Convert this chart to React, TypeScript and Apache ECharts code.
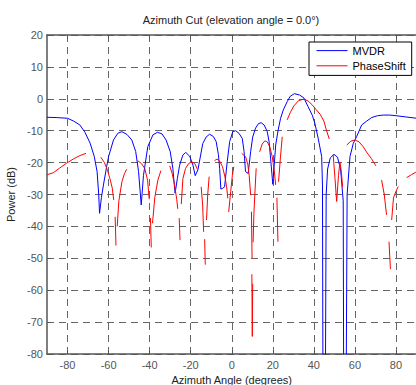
import React, { useEffect, useRef } from "react";
import * as echarts from "echarts";

const xTicks = [-80, -60, -40, -20, 0, 20, 40, 60, 80];

const mvdrAngles = [
  -90, -85, -80, -77, -74, -71.5, -69, -67, -65.6, -64.8, -64.4, -63.5, -62.5, -61, -60, -57.6, -55.5, -53.5,
  -51, -48.7, -46.8, -45.4, -44.1, -43, -40.9, -38.4, -36.2, -34, -32, -30, -28.7, -27.6, -26.5, -25.4, -23.8,
  -22.4, -20.5, -18.9, -17.8, -16.5, -14.1, -12.5, -10.8, -9, -7.6, -6.5, -5.9, -5.3, -4.5, -3.5, -2.2, -1, 0.5,
  1.9, 3.5, 5.1, 6, 6.7, 8, 9.2, 10.2, 11.6, 13, 14.3, 15.8, 17.3, 18.2, 18.9, 20, 21.4, 22.6, 23.8, 25.1, 27,
  28.5, 30.5, 33, 35.1, 37.2, 39.2, 40.5, 42.1, 43.8, 44.2, 44.5, 45.5, 46, 46.7, 48, 49.8, 51.5, 53, 54.3, 54.6,
  55.6, 56.2, 57.6, 59.2, 60.8, 63.3, 65.7, 68.1, 71, 73.8, 77, 80, 85, 90,
];
const mvdrPower = [
  -5.8, -5.9, -6.1, -7.0, -8.2, -10.5, -13.9, -18.0, -22.8, -30, -35.9, -31, -27, -21.5, -18.1, -12.9, -10.8, -10.3,
  -11.2, -12.9, -16.5, -22.8, -33.3, -24, -15, -11.3, -10.5, -11, -12.9, -16.5, -21.8, -29.6, -25, -20.8, -17.6,
  -16.8, -18, -20.8, -24.1, -22.3, -14, -12, -11.1, -11.8, -13.4, -17.5, -21.8, -28.3, -28.1, -27.6, -19.7, -13.4, -10.3,
  -10, -10.8, -12.4, -16.5, -22.8, -23.4, -16.6, -12, -9.2, -7.8, -7.5, -8.2, -10.3, -13.5, -18.6, -26.8, -14.5, -9.8, -6.1, -3.5, -0.9,
  0.8, 1.6, 1.2, 0.3, -2.5, -5.1, -7.7, -12.4, -18.1, -27, -110, -110, -30, -22, -18.5, -17.4, -18.3, -22, -32, -110,
  -110, -30, -18.1, -14, -11.9, -8.2, -7.0, -5.9, -5.3, -5.1, -5.1, -5.3, -5.7, -6.1,
];

const phaseAngles = [
  -90, -87, -84, -80.5, -77, -74, -71, -67,
  -63.8, -62, -60.5, -59.4, -58.2, -57.5, -57.1,
  -56.8, -56.4, -56.1, -55.8, -55, -53.5, -52.3, -51.2, -48,
  -45.8, -44, -42.4, -41, -40.2, -39.9,
  -39.6, -39.2, -38.9, -38.6, -37.5, -36, -34.5, -32,
  -30.2, -29, -28, -26.8, -26.3, -26,
  -25.6, -25.2, -24.9, -24.6, -23.8, -22.5, -21, -19.4, -18, -16.8, -15.8,
  -14.9, -14.2, -13.7, -13.4, -13.2, -12.9, -12.6, -12.3, -11.7, -11, -9.7,
  -8.4, -7.2, -6, -4.5, -3.3, -2.5, -1.9, -1.7,
  -1.5, -0.5, 0.3, 1, 3,
  4.8, 6.7, 7.8, 8.5, 9.2, 9.4,
  9.6, 9.9, 9.85, 9.8, 10, 10.2, 10.3, 10.4, 10.8, 11.4, 11.9, 12.8,
  13.6, 14.8, 16.1, 17.3, 18.5, 19.7, 20.7, 21.4, 21.7,
  22, 22.5, 22.6, 22.8, 23.7, 24.6, 25.8,
  27, 28.6, 30.3, 32.5, 35.1, 37.2, 39.2, 41, 43, 44.9, 46.2, 47.5, 48.5,
  49.4, 50.3, 51.1, 52, 52.7, 53.4, 54, 55,
  56, 58, 60, 62, 64, 66, 68, 70.2, 71.5,
  73, 74.3, 75.4, 76, 76.6, 77.3, 77.6, 77.9, 78.8, 80, 81.1, 83,
  85.2, 87.5, 89.7,
];
const phasePower = [
  -23.8, -23.2, -21.8, -20.2, -18.8, -17.8, -17.1, null,
  -18.3, -20, -22.5, -24.9, -28, -31.7, null,
  -37, -46, null, -40, -32, -26, -23.5, -22.1, null,
  -19.4, -20.3, -21.8, -25.5, -31.5, null,
  -37.4, -46.6, null, -39, -31, -25.5, -22.5, null,
  -21, -23.5, -26.5, -31.5, -34.5, null,
  -37.4, -44.3, null, -33, -25, -21.8, -20.3, -19.8, -20.3, -22, null,
  -27.6, -33, -41.7, null, -44, -52, null, -38, -30, -24.4, null,
  -19.4, -18.9, -19.4, -21.3, -24.5, -27.6, -31.2, null,
  -35.5, -29, -24, -21.3, null,
  -17.1, -18.1, -20.5, -24, -30.2, null,
  -35.4, -50, null, -55, -74.5, -58, null, -45, -35.9, -28, -21.8, null,
  -16.6, -14.2, -13.2, -13.5, -15, -18.1, -22.5, -27, null,
  -31, -44.8, null, -26, -18.5, -11.9, null,
  -6.6, -4.2, -2.2, -0.6, -0.1, -0.7, -1.9, -3.3, -4.8, -7, -10, -12.6, null,
  -17.5, -25, -32.2, -24, -19.8, -23, -27.6, null,
  -14.5, -13.3, -12.9, -13.5, -15, -17, -18.7, -21, null,
  -25.5, -30, -36.4, null, -44.8, -53.4, null, -38, -31, -29, -27.5, null,
  -24.7, -23.8, -23,
];

const FONT = "Liberation Sans, Arial, Helvetica, sans-serif";

export default function App() {
  const ref = useRef<HTMLDivElement>(null);
  useEffect(() => {
    if (!ref.current) return;
    const chart = echarts.init(ref.current, null, { renderer: "svg" });
    const mvdrData = mvdrAngles.map((a, i) => [a, mvdrPower[i]]);
    const phaseData = phaseAngles.map((a, i) => [a, phasePower[i] === null ? "-" : phasePower[i]]);
    chart.setOption({
      animation: false,
      backgroundColor: "#fff",
      textStyle: { fontFamily: FONT },
      title: {
        text: "Azimuth Cut (elevation angle = 0.0°)",
        left: 231,
        top: 14,
        textAlign: "center",
        padding: 0,
        textStyle: { fontSize: 11, fontWeight: "normal", color: "#222", fontFamily: FONT },
      },
      legend: {
        orient: "vertical",
        left: 309,
        top: 42,
        padding: [3, 6, 4, 7],
        itemWidth: 31,
        itemHeight: 14,
        itemGap: 4,
        borderColor: "#000",
        borderWidth: 1,
        backgroundColor: "#fff",
        borderRadius: 0,
        z: 10,
        itemStyle: { color: "transparent", borderColor: "transparent", borderWidth: 0, opacity: 0 },
        lineStyle: { width: 1 },
        textStyle: { fontSize: 11, color: "#000", fontFamily: FONT },
        data: ["MVDR", "PhaseShift"],
      },
      grid: { left: 47, top: 35, right: -0.5, bottom: 31, containLabel: false, outerBoundsMode: "none" },
      xAxis: [
        {
          type: "value",
          min: -90,
          max: 90,
          name: "Azimuth Angle (degrees)",
          nameLocation: "middle",
          nameGap: 19,
          nameTextStyle: { fontSize: 11, color: "#222", fontFamily: FONT },
          axisLine: { show: true, onZero: false, lineStyle: { color: "#555", width: 1.5 } },
          axisTick: { show: true, inside: true, length: 4, customValues: xTicks, lineStyle: { color: "#555" } },
          axisLabel: { customValues: xTicks, fontSize: 11, color: "#555", margin: 5, fontFamily: FONT },
          splitLine: { show: true, lineStyle: { color: "#666", type: [7, 5], width: 1 } },
        },
        {
          type: "value",
          position: "top",
          min: -90,
          max: 90,
          axisLine: { show: true, onZero: false, lineStyle: { color: "#555", width: 1.5 } },
          axisTick: { show: true, inside: true, length: 4, customValues: xTicks, lineStyle: { color: "#555" } },
          axisLabel: { show: false },
          splitLine: { show: false },
        },
      ],
      yAxis: {
        type: "value",
        min: -80,
        max: 20,
        interval: 10,
        name: "Power (dB)",
        nameLocation: "middle",
        nameGap: 24,
        nameTextStyle: { fontSize: 11, color: "#222", fontFamily: FONT },
        axisLine: { show: true, onZero: false, lineStyle: { color: "#555", width: 1.5 } },
        axisTick: { show: true, inside: true, length: 4, lineStyle: { color: "#555" } },
        axisLabel: { fontSize: 11, color: "#555", margin: 4, fontFamily: FONT },
        splitLine: { show: true, lineStyle: { color: "#666", type: [7, 5], width: 1 } },
      },
      series: [
        {
          name: "MVDR",
          type: "line",
          xAxisIndex: 0,
          data: mvdrData,
          symbol: "none",
          clip: true,
          silent: true,
          lineStyle: { color: "#0000ff", width: 1 },
          itemStyle: { color: "#0000ff" },
        },
        {
          name: "PhaseShift",
          type: "line",
          xAxisIndex: 0,
          data: phaseData,
          symbol: "none",
          clip: true,
          silent: true,
          connectNulls: false,
          lineStyle: { color: "#ff0000", width: 1 },
          itemStyle: { color: "#ff0000" },
        },
      ],
    });
    return () => chart.dispose();
  }, []);
  return <div ref={ref} style={{ position: "absolute", left: 0, top: 0, width: 416, height: 385 }} />;
}
